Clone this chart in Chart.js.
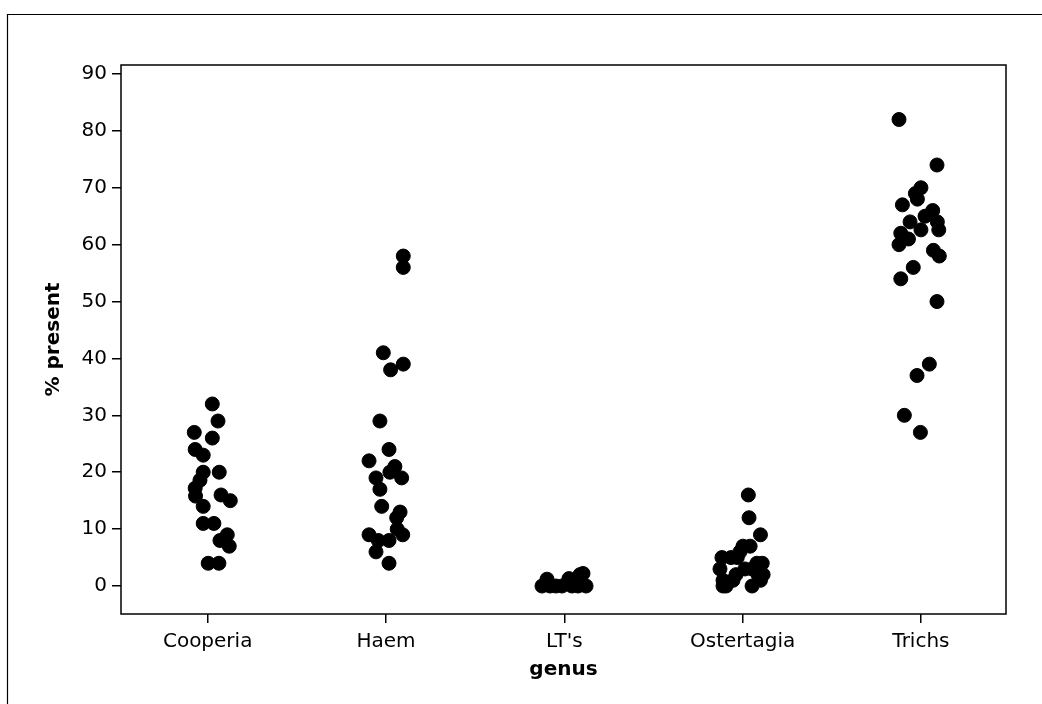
<!DOCTYPE html>
<html>
<head>
<meta charset="utf-8">
<script src="https://cdn.jsdelivr.net/npm/chart.js@4"></script>
<style>
  html, body { margin: 0; padding: 0; background: #fff; }
  #wrap { width: 1042px; height: 704px; }
</style>
</head>
<body>
<div id="wrap"><canvas id="chart" width="1042" height="704"></canvas></div>
<script>
// Genus names along the x axis
const categories = ['Cooperia', 'Haem', "LT's", 'Ostertagia', 'Trichs'];

// % present for each genus, plus the horizontal jitter (in category units)
const cooperiaValues = [32, 29, 27, 26, 24, 23, 20, 20, 18.6, 17.2, 15.8, 16, 15, 14, 11, 11, 9, 8, 7, 4, 4];
const cooperiaJitter = [0.026, 0.058, -0.075, 0.026, -0.07, -0.025, -0.025, 0.065, -0.043, -0.07, -0.068, 0.075, 0.127, -0.025, -0.025, 0.035, 0.11, 0.069, 0.121, 0.003, 0.063];

const haemValues = [58, 56, 41, 39, 38, 29, 24, 22, 21, 20, 19, 19, 17, 14, 13, 12, 10, 9, 9, 8, 8, 6, 4];
const haemJitter = [0.097, 0.097, -0.015, 0.097, 0.026, -0.034, 0.017, -0.095, 0.05, 0.022, -0.056, 0.088, -0.034, -0.024, 0.079, 0.06, 0.063, 0.094, -0.095, -0.043, 0.017, -0.056, 0.017];

const ltValues = [0, 1.2, 0, 0, 0, 1.3, 0, 0, 2.2, 0, 2];
const ltJitter = [-0.125, -0.097, -0.08, -0.047, -0.013, 0.026, 0.043, 0.077, 0.105, 0.122, 0.088];

const ostertagiaValues = [16, 12, 9, 7, 7, 6, 5, 5, 5, 4, 4, 3, 3, 3, 2, 2, 2, 1, 1, 1, 0, 0, 0];
const ostertagiaJitter = [0.032, 0.036, 0.1, 0.002, 0.042, -0.015, -0.116, -0.065, -0.03, 0.08, 0.11, -0.127, 0.013, 0.053, -0.037, 0.115, 0.086, -0.11, -0.054, 0.1, -0.093, 0.053, -0.11];

const trichsValues = [82, 74, 70, 69, 68, 67, 66, 65, 64, 64, 62.6, 62.6, 62, 61, 60, 59, 58, 56, 54, 50, 39, 37, 30, 27];
const trichsJitter = [-0.123, 0.09, 0, -0.031, -0.02, -0.104, 0.066, 0.023, -0.061, 0.092, 0, 0.1, -0.113, -0.07, -0.123, 0.07, 0.103, -0.043, -0.113, 0.09, 0.047, -0.022, -0.093, -0.003];

// y axis tick values
const yTicks = [0, 10, 20, 30, 40, 50, 60, 70, 80, 90];

const allValues = [cooperiaValues, haemValues, ltValues, ostertagiaValues, trichsValues];
const allJitter = [cooperiaJitter, haemJitter, ltJitter, ostertagiaJitter, trichsJitter];

// Build scatter points: category position + jitter
const points = [];
allValues.forEach((vals, i) => {
    vals.forEach((v, j) => {
        points.push({ x: i + 1 + allJitter[i][j], y: v });
    });
});

const tickFont = { family: 'DejaVu Sans', size: 20 };
const titleFont = { family: 'DejaVu Sans', size: 20, weight: 'bold' };

// Frame around the plot area and the outer graph frame
const framePlugin = {
    id: 'frames',
    beforeDatasetsDraw(chart) {
        const ctx = chart.ctx;
        const a = chart.chartArea;
        ctx.save();
        ctx.strokeStyle = '#000';
        ctx.lineWidth = 1.2;
        ctx.beginPath();
        ctx.moveTo(7.5, 704);
        ctx.lineTo(7.5, 14.5);
        ctx.lineTo(1042, 14.5);
        ctx.stroke();
        ctx.lineWidth = 1.5;
        ctx.strokeRect(a.left, a.top, a.right - a.left, a.bottom - a.top);
        ctx.restore();
    }
};

new Chart(document.getElementById('chart'), {
    type: 'scatter',
    data: {
        datasets: [{
            data: points,
            backgroundColor: '#000',
            borderColor: '#000',
            pointRadius: 7,
            pointHoverRadius: 7
        }]
    },
    options: {
        responsive: false,
        devicePixelRatio: 1,
        animation: false,
        layout: { padding: { left: 0, top: 65, right: 36, bottom: 0 } },
        plugins: {
            legend: { display: false },
            tooltip: { enabled: false }
        },
        scales: {
            x: {
                type: 'linear',
                min: 0.514,
                max: 5.477,
                afterBuildTicks: scale => {
                    scale.ticks = categories.map((c, i) => ({ value: i + 1 }));
                },
                afterFit: scale => { scale.height = 90; },
                ticks: {
                    color: '#000',
                    font: tickFont,
                    padding: 7,
                    autoSkip: false,
                    maxRotation: 0,
                    callback: v => categories[v - 1]
                },
                grid: {
                    drawOnChartArea: false,
                    color: '#000',
                    lineWidth: 1.5,
                    tickLength: 9
                },
                border: { display: false },
                title: {
                    display: true,
                    text: 'genus',
                    color: '#000',
                    font: titleFont,
                    padding: { top: 0, bottom: 22 }
                }
            },
            y: {
                min: -4.92,
                max: 91.58,
                afterBuildTicks: scale => {
                    scale.ticks = yTicks.map(v => ({ value: v }));
                },
                afterFit: scale => { scale.width = 121; },
                ticks: {
                    color: '#000',
                    font: tickFont,
                    padding: 5
                },
                grid: {
                    drawOnChartArea: false,
                    color: '#000',
                    lineWidth: 1.5,
                    tickLength: 9
                },
                border: { display: false },
                title: {
                    display: true,
                    text: '% present',
                    color: '#000',
                    font: titleFont,
                    padding: { top: 42, bottom: 0 }
                }
            }
        }
    },
    plugins: [framePlugin]
});
</script>
</body>
</html>
